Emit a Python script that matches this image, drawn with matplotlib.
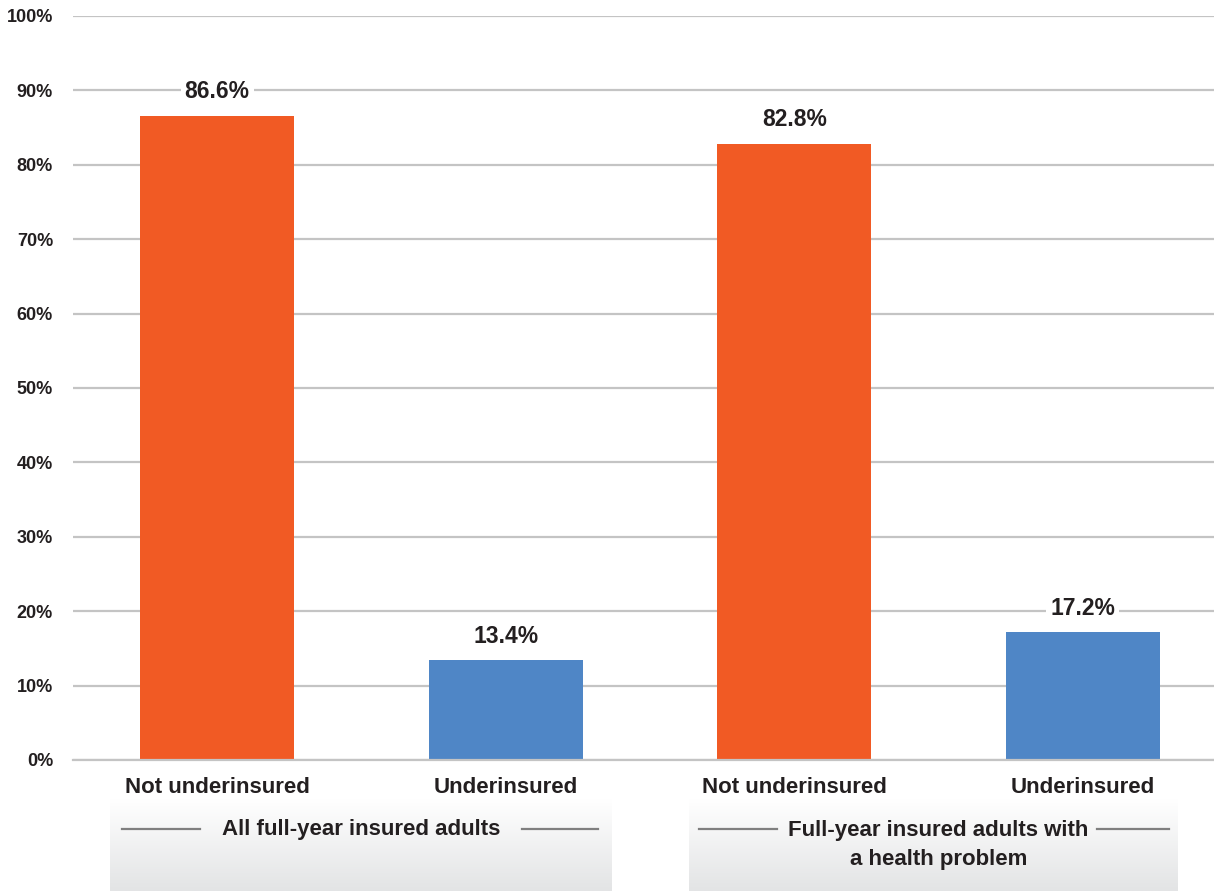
import numpy as np
import matplotlib

matplotlib.use("Agg")

import matplotlib.pyplot as plt
from matplotlib.lines import Line2D

plt.rcParams["font.family"] = ["Liberation Sans", "DejaVu Sans"]
plt.rcParams["font.weight"] = "bold"

categories = ["Not underinsured", "Underinsured", "Not underinsured", "Underinsured"]
values = [86.6, 13.4, 82.8, 17.2]
group_labels = ["All full-year insured adults", "Full-year insured adults with\na health problem"]
yticks = [0, 10, 20, 30, 40, 50, 60, 70, 80, 90, 100]

ORANGE = "#F15A24"
BLUE = "#4F86C6"
TEXT = "#231F20"
GRID = "#C4C4C4"
colors = [ORANGE, BLUE, ORANGE, BLUE]

W, H = 1214, 891
fig = plt.figure(figsize=(W / 100, H / 100), dpi=100)
ax = fig.add_axes([73 / W, 1 - 760 / H, 1 - 73 / W, (760 - 16) / H])
ax.patch.set_alpha(0)

x = np.arange(len(categories))
ax.bar(x, values, width=0.535, color=colors, zorder=2)

for xi, v in zip(x, values):
    ax.annotate(f"{v:.1f}%", (xi, v), xytext=(0, 24), textcoords="offset pixels",
                ha="center", va="center", fontsize=16.5, fontweight="bold", color=TEXT,
                bbox=dict(facecolor="white", edgecolor="none", pad=3), zorder=3)

ax.set_ylim(0, 100)
ax.set_xlim(-0.5, 3.455)
ax.set_yticks(yticks)
ax.set_yticklabels([f"{t}%" for t in yticks])
ax.yaxis.grid(True, color=GRID, linewidth=1.6, zorder=0)
ax.set_axisbelow(True)
ax.tick_params(axis="y", length=0, pad=14.4, labelsize=13, labelcolor=TEXT)
ax.set_xticks(x)
ax.set_xticklabels(categories)
ax.tick_params(axis="x", length=0, pad=12, labelsize=16, labelcolor=TEXT)
for s in ["top", "right", "left"]:
    ax.spines[s].set_visible(False)
ax.spines["bottom"].set_color(GRID)
ax.spines["bottom"].set_linewidth(1.6)

# gradient boxes under the groups
grad = np.linspace(1.0, 0.0, 64).reshape(-1, 1)
grad = np.clip(grad * 1.4, 0, 1)
cmap = matplotlib.colors.LinearSegmentedColormap.from_list("g", ["#E3E4E5", "#FFFFFF"])
boxes = [(-0.372, 1.365), (1.635, 3.33)]
for x0, x1 in boxes:
    ax.imshow(grad, extent=(x0, x1, -17.6, -0.3), aspect="auto", cmap=cmap,
              vmin=0, vmax=1, clip_on=False, zorder=-1)
ax.set_xlim(-0.5, 3.455)
ax.set_ylim(0, 100)

# group labels with side rules
trans = matplotlib.transforms.blended_transform_factory(ax.transData, fig.transFigure)
centers = [0.5, 2.5]
label_y = [830, 845]
rules = [((-0.83, -0.56), (0.555, 0.82)), ((-0.83, -0.56), (0.55, 0.80))]
for c, lab, ly, (l, r) in zip(centers, group_labels, label_y, rules):
    fig.text(c, 1 - ly / H, lab, transform=trans, ha="center", va="center",
             fontsize=16, fontweight="bold", color=TEXT, linespacing=1.55)
    for a, b in (l, r):
        fig.add_artist(Line2D([c + a, c + b], [1 - 829 / H] * 2, transform=trans,
                              color="#7F7F7F", linewidth=1.6))

fig.savefig("out.png", dpi=100)
